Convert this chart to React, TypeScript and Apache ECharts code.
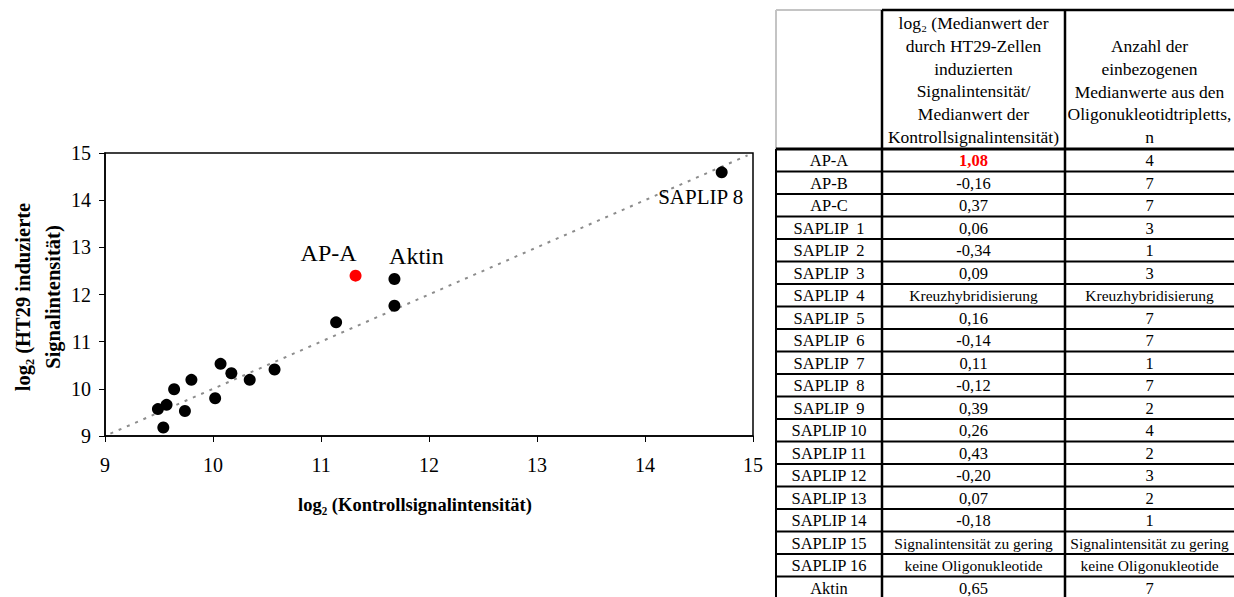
import React, { useEffect, useRef } from "react";
import * as echarts from "echarts";

// ---- scatter data (log2 control intensity vs log2 HT29 induced intensity)
const xValues = [9.49, 9.54, 9.57, 9.64, 9.74, 9.8, 10.02, 10.07, 10.17, 10.34, 10.57, 11.14, 11.32, 11.68, 11.68, 14.71];
const yValues = [9.57, 9.18, 9.66, 9.99, 9.53, 10.19, 9.8, 10.53, 10.33, 10.19, 10.41, 11.41, 12.4, 12.33, 11.76, 14.59];
const pointLabels = ["", "", "", "", "", "", "", "", "", "", "", "", "AP-A", "Aktin", "", "SAPLIP 8"];
const highlighted = "AP-A";
const trendX = [9.05, 14.95];
const trendY = [9.05, 14.95];

const xTitle = "log₂ (Kontrollsignalintensität)";
const yTitleLines = ["log₂ (HT29 induzierte", "Signalintensität)"];

// ---- table data
const headerCol2 = [
  "log₂ (Medianwert der",
  "durch HT29-Zellen",
  "induzierten",
  "Signalintensität/",
  "Medianwert der",
  "Kontrollsignalintensität)",
];
const headerCol3 = ["Anzahl der", "einbezogenen", "Medianwerte aus den", "Oligonukleotidtripletts,", "n"];
const rowNames = [
  "AP-A", "AP-B", "AP-C", "SAPLIP  1", "SAPLIP  2", "SAPLIP  3", "SAPLIP  4", "SAPLIP  5", "SAPLIP  6",
  "SAPLIP  7", "SAPLIP  8", "SAPLIP  9", "SAPLIP 10", "SAPLIP 11", "SAPLIP 12", "SAPLIP 13", "SAPLIP 14",
  "SAPLIP 15", "SAPLIP 16", "Aktin",
];
const ratioTexts = [
  "1,08", "-0,16", "0,37", "0,06", "-0,34", "0,09", "Kreuzhybridisierung", "0,16", "-0,14", "0,11", "-0,12",
  "0,39", "0,26", "0,43", "-0,20", "0,07", "-0,18", "Signalintensität zu gering", "keine Oligonukleotide", "0,65",
];
const countTexts = [
  "4", "7", "7", "3", "1", "3", "Kreuzhybridisierung", "7", "7", "1", "7", "2", "4", "2", "3", "2", "1",
  "Signalintensität zu gering", "keine Oligonukleotide", "7",
];

const SERIF = "'Liberation Serif', 'Times New Roman', serif";

function buildTable(): any[] {
  const els: any[] = [];
  const cols = [776, 882, 1065, 1238];
  const top = 10;
  const headBottom = 149;
  const rowH = 22.5;
  const bottom = 600;
  const black = "#000";
  const line = (x1: number, y1: number, x2: number, y2: number, w: number, c: string) =>
    els.push({ type: "line", shape: { x1, y1, x2, y2 }, style: { stroke: c, lineWidth: w }, z: 10 });
  const text = (t: string, x: number, y: number, size: number, extra: any = {}) =>
    els.push({
      type: "text",
      x,
      y,
      style: {
        text: t,
        fill: extra.fill || "#000",
        fontSize: size,
        fontFamily: SERIF,
        fontWeight: extra.fontWeight || "normal",
        align: "center",
        verticalAlign: "middle",
        textAlign: "center",
        textVerticalAlign: "middle",
      },
      z: 11,
    });

  // grey outline of empty header cell
  line(cols[0], top, cols[1], top, 2, "#c4c4c4");
  line(cols[0], top, cols[0], headBottom, 2, "#c4c4c4");
  // black top border
  line(cols[1], top, cols[3], top, 2.5, black);
  // verticals
  line(cols[1], top, cols[1], bottom, 2.5, black);
  line(cols[2], top, cols[2], bottom, 2.5, black);
  line(cols[0], headBottom, cols[0], bottom, 2, black);
  // header bottom
  line(cols[0], headBottom, cols[3], headBottom, 3, black);
  for (let i = 1; i < rowNames.length; i++) {
    const y = headBottom + i * rowH;
    line(cols[0], y, cols[3], y, 2, black);
  }
  const c1 = (cols[0] + cols[1]) / 2;
  const c2 = (cols[1] + cols[2]) / 2;
  const c3 = (cols[2] + cols[3]) / 2 - 2;
  headerCol2.forEach((t, i) => text(t, c2, 23 + i * 22.8, 17.5));
  headerCol3.forEach((t, i) => text(t, c3, 46 + i * 22.8, 17.5));
  rowNames.forEach((name, i) => {
    const y = headBottom + i * rowH + rowH / 2 + 0.5;
    text(name, c1, y, 16.5);
    const r = ratioTexts[i];
    const n = countTexts[i];
    const isLong = (s: string) => s.length > 5;
    if (name === highlighted) {
      text(r, c2, y, 16.5, { fill: "#ff0000", fontWeight: "bold" });
    } else {
      text(r, c2, y, isLong(r) ? 15.5 : 16.5);
    }
    text(n, c3, y, isLong(n) ? 15.5 : 16.5);
  });
  return els;
}

export default function App() {
  const ref = useRef<HTMLDivElement>(null);
  useEffect(() => {
    document.body.style.margin = "0";
    if (!ref.current) return;
    const chart = echarts.init(ref.current, undefined, { renderer: "svg" });

    const labelCfg: Record<string, any> = {
      "AP-A": { position: "top", offset: [-27, 0], fontSize: 24 },
      Aktin: { position: "top", offset: [22, 0], fontSize: 24 },
      "SAPLIP 8": { position: "bottom", offset: [-21, 3], fontSize: 21 },
    };

    const scatterData = xValues.map((x, i) => {
      const name = pointLabels[i];
      const item: any = { value: [x, yValues[i]], name };
      if (name === highlighted) item.itemStyle = { color: "#ff0000" };
      if (name && labelCfg[name]) {
        item.label = {
          show: true,
          formatter: name,
          color: "#000",
          fontFamily: SERIF,
          ...labelCfg[name],
        };
      }
      return item;
    });

    chart.setOption({
      animation: false,
      backgroundColor: "#fff",
      grid: {
        left: 105,
        right: 481,
        top: 153,
        bottom: 161,
        show: true,
        borderColor: "#000",
        borderWidth: 1.5,
        containLabel: false,
      },
      xAxis: {
        type: "value",
        min: 9,
        max: 15,
        interval: 1,
        splitLine: { show: false },
        axisLine: { show: true, lineStyle: { color: "#000", width: 1.5 } },
        axisTick: { show: true, inside: false, length: 6, lineStyle: { color: "#000" } },
        axisLabel: { color: "#000", fontSize: 20, fontFamily: SERIF, margin: 19 },
      },
      yAxis: {
        type: "value",
        min: 9,
        max: 15,
        interval: 1,
        splitLine: { show: false },
        axisLine: { show: true, lineStyle: { color: "#000", width: 1.5 } },
        axisTick: { show: true, inside: false, length: 6, lineStyle: { color: "#000" } },
        axisLabel: { color: "#000", fontSize: 20, fontFamily: SERIF, margin: 14 },
      },
      series: [
        {
          type: "line",
          data: trendX.map((x, i) => [x, trendY[i]]),
          showSymbol: false,
          symbol: "none",
          lineStyle: { color: "#8c8c8c", width: 2, type: [3, 6] },
          silent: true,
          z: 1,
        },
        {
          type: "scatter",
          data: scatterData,
          symbolSize: 12,
          itemStyle: { color: "#000", opacity: 1 },
          label: { show: false },
          z: 2,
        },
      ],
      graphic: [
        {
          type: "text",
          x: 415,
          y: 505,
          style: {
            text: xTitle,
            fill: "#000",
            fontSize: 18.5,
            fontWeight: "bold",
            fontFamily: SERIF,
            align: "center",
            verticalAlign: "middle",
            textAlign: "center",
            textVerticalAlign: "middle",
          },
        },
        ...yTitleLines.map((t, i) => ({
          type: "text",
          x: 23 + i * 30,
          y: 297,
          rotation: Math.PI / 2,
          style: {
            text: t,
            fill: "#000",
            fontSize: 20.5,
            fontWeight: "bold",
            fontFamily: SERIF,
            align: "center",
            verticalAlign: "middle",
            textAlign: "center",
            textVerticalAlign: "middle",
          },
        })),
        ...buildTable(),
      ],
    });
    return () => chart.dispose();
  }, []);
  return <div ref={ref} style={{ width: 1234, height: 597 }} />;
}
